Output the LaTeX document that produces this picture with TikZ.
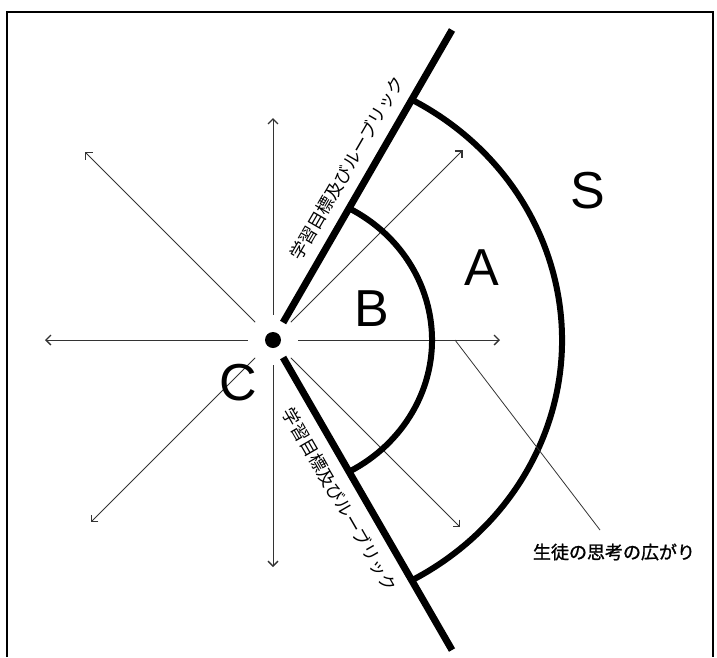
\documentclass[tikz,border=0pt]{standalone}
\usepackage{fontspec}
\setmainfont{Liberation Sans}
\newfontfamily\jpfont{Noto Sans CJK JP}
\newfontfamily\jpnotefont{Noto Sans CJK JP}[FakeBold=1.2]
\usepackage{tikz}
\usetikzlibrary{arrows.meta}

\begin{document}
\begin{tikzpicture}[
  x=1pt, y=1pt,
  every node/.style={inner sep=0pt},
  ray/.style={draw=black!80, line width=0.9pt, shorten <=17pt,
    -{Straight Barb[length=5pt,width=10pt,line width=1.3pt]}},
  bound/.style={line width=7pt, shorten <=12pt},
  band/.style={line width=6pt},
  zone/.style={font=\fontsize{52}{52}\selectfont},
  rubric/.style={font=\jpfont\fontsize{17.5}{17.5}\selectfont},
  note/.style={font=\jpnotefont\fontsize{18}{18}\selectfont},
]
\useasboundingbox (-273,-317) rectangle (444,340);
\draw[line width=1.5pt] (-266,-317) -- (-266,328) -- (440,328) -- (440,-317);

% centre of the learner
\node[circle, fill, minimum size=16pt] (c) at (0,0) {};

% directions of thinking
\foreach \a/\r in {0/227,45/268,90/222,135/266,180/228,225/258,270/227,315/265}{
  \coordinate (t\a) at (\a:\r);
  \draw[ray] (c.\a) -- (t\a);
}

% goals and rubric boundaries
\coordinate (up)  at (60:358);
\coordinate (low) at (-60:358);
\draw[bound] (c.60)  -- (up);
\draw[bound] (c.-60) -- (low);

% bands
\draw[band] (61:159 and 150) arc[start angle=61, end angle=-61, x radius=159, y radius=150];
\draw[band] (61:289 and 274) arc[start angle=61, end angle=-61, x radius=289, y radius=274];

% levels
\node[zone] (S) at (315,149) {S};
\node[zone] (A) at (209,72)  {A};
\node[zone] (B) at (99,31)   {B};
\node[zone] (C) at (-35,-43) {C};

% rubric labels
\node[rubric, rotate=60]  (rubup)  at (74,172)   {学習目標及びルーブリック};
\node[rubric, rotate=-60] (rublow) at (67,-160)  {学習目標及びルーブリック};

% spread of thinking
\coordinate (lead)    at (182,0);
\coordinate (leadend) at (327,-190);
\node[note] (spread) at (341,-212) {生徒の思考の広がり};
\draw[black!80, line width=0.8pt] (lead) -- (leadend);
\end{tikzpicture}
\end{document}
